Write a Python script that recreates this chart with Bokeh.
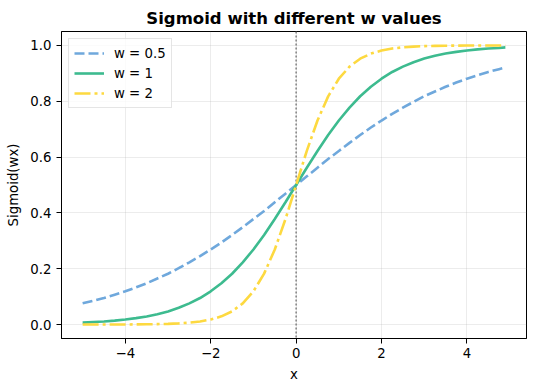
from bokeh.plotting import figure
from bokeh.models import Span, FixedTicker, Legend, LegendItem
from bokeh.embed import file_html
from bokeh.resources import INLINE

# ---- data ----
x_vals = [-5.0, -4.75, -4.5, -4.25, -4.0, -3.75, -3.5, -3.25, -3.0, -2.75,
          -2.5, -2.25, -2.0, -1.75, -1.5, -1.25, -1.0, -0.75, -0.5, -0.25,
          0.0, 0.25, 0.5, 0.75, 1.0, 1.25, 1.5, 1.75, 2.0, 2.25,
          2.5, 2.75, 3.0, 3.25, 3.5, 3.75, 4.0, 4.25, 4.5, 4.75, 4.9]

y_w05 = [0.076, 0.085, 0.095, 0.107, 0.119, 0.133, 0.148, 0.165, 0.182, 0.202,
         0.223, 0.245, 0.269, 0.294, 0.321, 0.349, 0.378, 0.407, 0.438, 0.469,
         0.500, 0.531, 0.562, 0.593, 0.622, 0.651, 0.679, 0.706, 0.731, 0.755,
         0.777, 0.798, 0.818, 0.835, 0.852, 0.867, 0.881, 0.893, 0.905, 0.915, 0.921]

y_w1 = [0.007, 0.009, 0.011, 0.014, 0.018, 0.023, 0.029, 0.037, 0.047, 0.060,
        0.076, 0.095, 0.119, 0.148, 0.182, 0.223, 0.269, 0.321, 0.378, 0.438,
        0.500, 0.562, 0.622, 0.679, 0.731, 0.777, 0.818, 0.852, 0.881, 0.905,
        0.924, 0.940, 0.953, 0.963, 0.971, 0.977, 0.982, 0.986, 0.989, 0.991, 0.993]

y_w2 = [0.0000, 0.0001, 0.0001, 0.0002, 0.0003, 0.0006, 0.0009, 0.0015, 0.0025, 0.0041,
        0.0067, 0.0110, 0.0180, 0.0293, 0.0474, 0.0759, 0.1192, 0.1824, 0.2689, 0.3775,
        0.5000, 0.6225, 0.7311, 0.8176, 0.8808, 0.9241, 0.9526, 0.9707, 0.9820, 0.9890,
        0.9933, 0.9959, 0.9975, 0.9985, 0.9991, 0.9994, 0.9997, 0.9998, 0.9999, 0.9999, 0.9999]

series_labels = ["w = 0.5", "w = 1", "w = 2"]
x_ticks = [-4, -2, 0, 2, 4]
x_tick_labels = ["\u22124", "\u22122", "0", "2", "4"]
y_ticks = [0.0, 0.2, 0.4, 0.6, 0.8, 1.0]
y_tick_labels = ["0.0", "0.2", "0.4", "0.6", "0.8", "1.0"]
vline_x = 0.0

FONT = "DejaVu Sans"

p = figure(width=536, height=391, output_backend="svg", toolbar_location=None,
           x_range=(-5.495, 5.395), y_range=(-0.05, 1.05),
           min_border_left=61, min_border_right=10, min_border_top=31,
           min_border_bottom=53, title="Sigmoid with different w values")

p.title.text_font = FONT
p.title.text_font_size = "16.5px"
p.title.text_font_style = "bold"
p.title.align = "center"
p.title.standoff = 8
p.title.text_color = "black"

p.outline_line_color = "black"
p.outline_line_width = 1
p.outline_line_alpha = 1

for ax in (p.xaxis, p.yaxis):
    ax.axis_line_color = "black"
    ax.major_tick_line_color = "black"
    ax.major_tick_out = 5
    ax.major_tick_in = 0
    ax.minor_tick_line_color = None
    ax.major_label_text_font = FONT
    ax.major_label_text_font_size = "13.3px"
    ax.major_label_text_color = "black"
    ax.axis_label_text_font = FONT
    ax.axis_label_text_font_size = "13.3px"
    ax.axis_label_text_font_style = "normal"
    ax.axis_label_text_color = "black"

p.xaxis.ticker = FixedTicker(ticks=x_ticks)
p.xaxis.major_label_overrides = {t: l for t, l in zip(x_ticks, x_tick_labels)}
p.yaxis.ticker = FixedTicker(ticks=y_ticks)
p.yaxis.major_label_overrides = {t: l for t, l in zip(y_ticks, y_tick_labels)}
p.xaxis.axis_label = "x"
p.yaxis.axis_label = "Sigmoid(wx)"
p.xaxis.major_label_standoff = 4
p.yaxis.major_label_standoff = 5
p.xaxis.axis_label_standoff = 6
p.yaxis.axis_label_standoff = 6

p.grid.grid_line_color = "#b0b0b0"
p.grid.grid_line_alpha = 0.3
p.grid.grid_line_width = 0.8

vline = Span(location=vline_x, dimension="height", line_color="#808080",
             line_width=1.5, line_dash="2 2", level="underlay")
p.add_layout(vline)

r1 = p.line(x_vals, y_w05, line_color="#6fa8dc", line_width=2.6,
            line_dash="10 4")
r2 = p.line(x_vals, y_w1, line_color="#3dbb8f", line_width=2.6)
r3 = p.line(x_vals, y_w2, line_color="#fdd940", line_width=2.6,
            line_dash="16 4 3 4")

legend = Legend(items=[LegendItem(label=series_labels[0], renderers=[r1]),
                       LegendItem(label=series_labels[1], renderers=[r2]),
                       LegendItem(label=series_labels[2], renderers=[r3])],
                location="top_left")
legend.margin = 7
legend.padding = 5
legend.spacing = 2
legend.glyph_width = 30
legend.glyph_height = 18
legend.label_height = 18
legend.label_standoff = 10
legend.label_text_font = FONT
legend.label_text_font_size = "13.3px"
legend.label_text_color = "black"
legend.border_line_color = "#cccccc"
legend.border_line_width = 1
legend.background_fill_color = "white"
legend.background_fill_alpha = 0.8
p.add_layout(legend)

open("out.html", "w").write(file_html(p, INLINE))
